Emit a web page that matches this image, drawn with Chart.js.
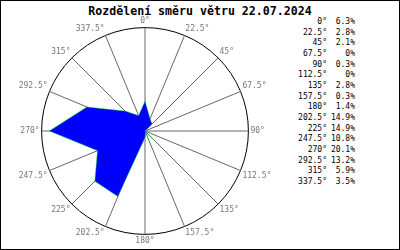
<!DOCTYPE html>
<html>
<head>
<meta charset="utf-8">
<script src="https://cdn.jsdelivr.net/npm/chart.js@4/dist/chart.umd.min.js"></script>
<style>
  html, body { margin: 0; padding: 0; background: #fff; }
  #wrap { position: relative; width: 400px; height: 250px; overflow: hidden; font-family: "DejaVu Sans Mono", monospace; }
  #chart-box { position: absolute; left: 0; top: 0; width: 290px; height: 250px; }
  #title { position: absolute; left: 0; top: 4px; width: 400px; text-align: center; font-weight: bold; font-size: 11.6px; line-height: 14px; color: #000; }
  #list { position: absolute; left: 290px; top: 17px; font-size: 8px; color: #000; }
  #list .row { display: flex; height: 10.67px; line-height: 10.67px; white-space: pre; }
  #list .a { width: 37px; text-align: right; }
  #list .p { width: 28px; text-align: right; }
  #frame { position: absolute; left: 0; top: 0; width: 400px; height: 250px; box-sizing: border-box; border: 1px solid #000; pointer-events: none; }
</style>
</head>
<body>
<div id="wrap">
  <div id="title">Rozdělení směru větru 22.07.2024</div>
  <div id="chart-box"><canvas id="wind-chart" width="290" height="250"></canvas></div>
  <div id="list"></div>
  <div id="frame"></div>
</div>
<script>
// wind direction sectors and share of time (%)
const directions = ['0°', '22.5°', '45°', '67.5°', '90°', '112.5°', '135°', '157.5°',
                    '180°', '202.5°', '225°', '247.5°', '270°', '292.5°', '315°', '337.5°'];
const shares = [6.3, 2.8, 2.1, 0, 0.3, 0, 2.8, 0.3, 1.4, 14.9, 14.9, 10.8, 20.1, 13.2, 5.9, 3.5];
const scaleMax = 21.7;

// side table
const list = document.getElementById('list');
directions.forEach((d, i) => {
    const v = shares[i];
    const txt = v === 0 ? '0%' : v.toFixed(1) + '%';
    list.innerHTML += `<div class="row"><span class="a">${d}</span><span class="p">${txt}</span></div>`;
});

const ctx = document.getElementById('wind-chart');
new Chart(ctx, {
    type: 'radar',
    data: {
        labels: directions,
        datasets: [{
            data: shares,
            backgroundColor: '#0000ff',
            borderColor: 'rgba(0, 255, 0, 0.4)',
            borderWidth: 1,
            pointRadius: 0,
            fill: true,
            tension: 0
        }]
    },
    options: {
        responsive: false,
        animation: false,
        layout: { padding: { top: 17, bottom: 3, left: 0, right: 0 } },
        plugins: {
            legend: { display: false },
            tooltip: { enabled: false },
            title: { display: false }
        },
        scales: {
            r: {
                min: 0,
                max: scaleMax,
                ticks: { display: false, stepSize: scaleMax },
                grid: { circular: true, color: '#000', lineWidth: 1 },
                angleLines: { color: '#666', lineWidth: 1 },
                pointLabels: {
                    color: '#777',
                    padding: 2,
                    font: { family: 'DejaVu Sans Mono', size: 8 }
                }
            }
        }
    }
});
</script>
</body>
</html>
